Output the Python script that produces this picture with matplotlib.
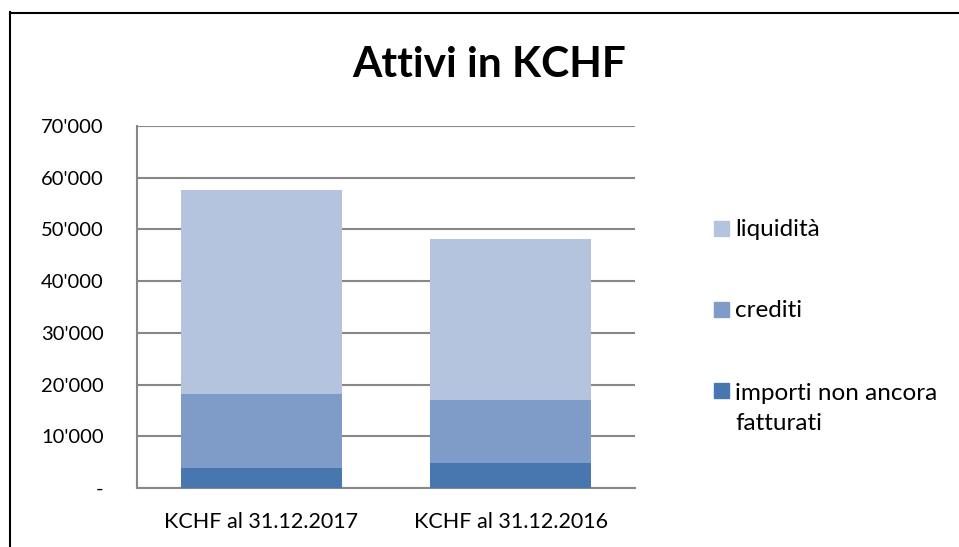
import matplotlib
matplotlib.use("Agg")
import matplotlib.pyplot as plt
from matplotlib.patches import Rectangle
from matplotlib.lines import Line2D
from matplotlib.ticker import FuncFormatter

categories = ["KCHF al 31.12.2017", "KCHF al 31.12.2016"]
importi = [3900, 4800]
crediti = [14200, 12300]
liquidita = [39600, 31100]
series_names = ["importi non ancora\nfatturati", "crediti", "liquidità"]
colors = ["#4877B0", "#7E9CC7", "#B5C4DE"]
yticks = [0, 10000, 20000, 30000, 40000, 50000, 60000, 70000]

plt.rcParams['font.family'] = ['Lato', 'DejaVu Sans']

fig = plt.figure(figsize=(9.59, 5.47), dpi=100)
ax = fig.add_axes([137/959, 1-488/547, (635-137)/959, (488-126)/547])

x = list(range(len(categories)))
w = 0.643
bottom = [0]*len(categories)
series = [importi, crediti, liquidita]
for vals, col, name in zip(series, colors, series_names):
    ax.bar(x, vals, width=w, bottom=bottom, color=col, edgecolor='none', label=name, zorder=3)
    bottom = [b+v for b, v in zip(bottom, vals)]

ax.set_xlim(-0.5, 1.5)
ax.set_ylim(0, 70000)
ax.set_yticks(yticks)
ax.yaxis.set_major_formatter(FuncFormatter(lambda v, p: "-" if v == 0 else f"{int(v):,}".replace(",", "'")))
ax.set_xticks(x)
ax.set_xticklabels(categories)
ax.grid(axis='y', color='#878787', linewidth=1.5, zorder=0)
for s in ['top', 'right']:
    ax.spines[s].set_visible(False)
for s in ['left', 'bottom']:
    ax.spines[s].set_color('#878787')
    ax.spines[s].set_linewidth(1.5)
ax.tick_params(axis='both', length=0, colors='black')
ax.tick_params(axis='y', pad=24, labelsize=14.5)
ax.tick_params(axis='x', pad=17, labelsize=15.5)

fig.text(489/959, 1-77/547, "Attivi in KCHF", ha='center', va='baseline', fontsize=30.5, fontweight='bold')

# legend (top to bottom: liquidità, crediti, importi)
leg_base = [236, 317, 397.5]
line_step = 33
for name, col, yb in zip(series_names[::-1], colors[::-1], leg_base):
    fig.patches.append(Rectangle((714/959, 1-yb/547), 15/959, 15/547,
                                 transform=fig.transFigure, color=col, figure=fig))
    nl = name.count('\n')
    fig.text(735/959, 1-(yb + line_step*nl)/547, name, ha='left', va='baseline',
             fontsize=17.5, linespacing=1.53)

# frame (top and left edges visible)
fig.lines.append(Line2D([10/959, 10/959], [0, 1-12/547], transform=fig.transFigure, color='black', linewidth=1.5))
fig.lines.append(Line2D([10/959, 1], [1-12.5/547, 1-12.5/547], transform=fig.transFigure, color='black', linewidth=1.5))

fig.savefig("out.png", dpi=100)
